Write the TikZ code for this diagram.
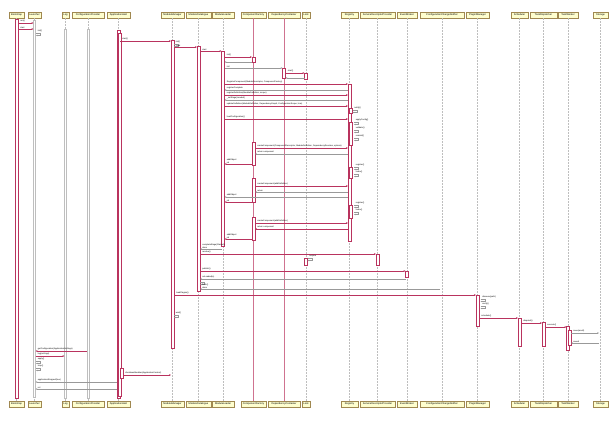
\documentclass[tikz,border=0pt]{standalone}
\usepackage{fontspec}
\setmainfont{Liberation Sans}
\usetikzlibrary{arrows.meta}
\definecolor{pu}{HTML}{A80036}
\definecolor{pfill}{HTML}{FEFECE}
\definecolor{pdraw}{HTML}{A08850}
\definecolor{lgray}{HTML}{BEBEBE}
\newcounter{lbn}
\tikzset{
  part/.style={draw=pdraw, fill=pfill, line width=0.45pt, minimum height=6pt, inner sep=0pt, font=\fontsize{2.5}{3}\selectfont},
  lifeln/.style={draw=lgray, line width=0.35pt, dash pattern=on 2pt off 1pt},
  pinkln/.style={draw=pu!55, line width=0.45pt},
  actbar/.style={draw=pu!80, fill=white, line width=0.35pt},
  grayact/.style={draw=lgray, fill=white, line width=0.35pt},
  msgline/.style={draw=pu!80, line width=0.4pt, -{Stealth[length=2pt,width=1.6pt]}},
  retline/.style={draw=gray!80, line width=0.3pt, -{Stealth[length=1.8pt,width=1.5pt]}},
  selfline/.style={draw=gray!80, line width=0.3pt, -{Stealth[length=1.6pt,width=1.3pt]}},
  lbl/.style={font=\fontsize{2.1}{2.5}\selectfont, inner sep=0.2pt, anchor=south west, align=left},
}
\newcommand\Lbl[3]{\stepcounter{lbn}\node[lbl] (lb\arabic{lbn}) at (#1,#2) {#3};}
\newcommand\Msg[4]{\draw[msgline] (#1,#3) -- (#2,#3);\Lbl{{min(#1,#2)+2}}{{#3-0.5}}{#4}}
\newcommand\Ret[4]{\draw[retline] (#1,#3) -- (#2,#3);\Lbl{{min(#1,#2)+2}}{{#3-0.5}}{#4}}
\newcommand\Self[3]{\draw[selfline] (#1+1.5,#2) -- (#1+6,#2) -- (#1+6,#2+2.5) -- (#1+1.5,#2+2.5);\Lbl{{#1+3}}{{#2-0.5}}{#3}}
\newcommand\Act[3]{\draw[actbar] (#1-1.5,#2) rectangle (#1+1.5,#3);}
\newcommand\GAct[3]{\draw[grayact] (#1-1,#2) rectangle (#1+1,#3);}
\begin{document}
\begin{tikzpicture}[x=1pt,y=-1pt]
\fill[white] (0,0) rectangle (615,421);
\useasboundingbox (0,0) rectangle (615,421);
% participants
\foreach \n/\cx/\w/\nm in {1/16.5/15/Bootstrap, 2/34.5/13/Launcher, 3/65.5/7/Log, 4/88/32/ConfigurationProvider, 5/118.5/23/ApplicationHost, 6/172.5/23/ModuleManager, 7/198.5/25/ModuleCatalogue, 8/223/22/ModuleLoader, 9/253.5/25/ComponentFactory, 10/284/32/DependencyContainer, 11/306/8/Lock, 12/349.5/17/Registry, 13/377.5/35/ServiceDescriptorProvider, 14/407/20/EventBroker, 15/442/44/ConfigurationChangeNotifier, 16/477.5/23/PluginManager, 17/519.5/17/Scheduler, 18/543.5/27/TaskDispatcher, 19/568/20/TaskWorker, 20/600.5/15/Storage}{
  \node[part, minimum width=\w pt] (h\n) at (\cx,15) {\nm};
  \node[part, minimum width=\w pt] (f\n) at (\cx,404) {\nm};
  \draw[lifeln] (h\n.south) -- (f\n.north);
}
\draw[pinkln] (h9.south) -- (f9.north);
\draw[pinkln] (h10.south) -- (f10.north);
% activations
\Act{16.5}{19}{398}
\GAct{34.5}{20}{397}
\GAct{65.5}{29}{398}
\GAct{88}{29}{398}
\Act{118.5}{30}{398}
\Act{120}{33}{396}
\Act{121.5}{368}{378}
\Act{172.5}{40}{348}
\Act{198.5}{46}{291}
\Act{223}{51}{246}
\Act{253.5}{57}{62}
\Act{253.5}{142}{165}
\Act{253.5}{178}{202}
\Act{253.5}{217}{240}
\Act{284}{68}{78}
\Act{306}{73}{79}
\Act{306}{258}{265}
\Act{349.5}{84}{241}
\Act{351}{108}{113}
\Act{351}{122}{145}
\Act{351}{167}{178}
\Act{351}{205}{218}
\Act{377.5}{254}{265}
\Act{407}{271}{277}
\Act{477.5}{295}{326}
\Act{519.5}{318}{346}
\Act{543.5}{322}{346}
\Act{568}{326}{350}
\Act{569.5}{330}{345}
% messages
\Msg{18}{33.5}{23}{run()}
\Msg{18}{33.5}{29}{start}
\Self{34.5}{33}{init()}
\Msg{120}{171}{41}{start()}
\Self{172.5}{44}{init()}
\Msg{174}{197}{47}{load}
\Msg{200}{221.5}{51}{start}
\Msg{224.5}{252}{57}{init()}
\Ret{252}{224.5}{62}{}
\Ret{224.5}{282.5}{68}{init}
\Msg{285.5}{304.5}{73}{start()}
\Ret{304.5}{285.5}{78}{}
\Msg{224.5}{348}{84}{RegisterComponent(ModuleDescriptor, ComponentFactory)}
\Ret{348}{224.5}{90}{registerComplete}
\Msg{224.5}{348}{95}{registerDefinition(ModuleDefinition, scope)}
\Ret{348}{224.5}{100}{\_setStage(Loaded)}
\Msg{224.5}{348}{106}{updateDefinition(ModuleDefinition, DependencyGraph, ConfigurationScope, true)}
\Self{351}{110}{notify()}
\Msg{224.5}{348}{119}{loadConfiguration()}
\Self{352.5}{122}{applyConfig()}
\Self{352.5}{130}{validate()}
\Self{352.5}{138}{commit()}
\Msg{255}{348}{148}{createComponent(ComponentDescriptor, ModuleDefinition, DependencyResolver, options)}
\Ret{348}{255}{154}{return component}
\Msg{252}{224.5}{164}{addObject\\ok}
\Self{352.5}{167}{register()}
\Self{352.5}{174}{index()}
\Msg{255}{348}{186}{createComponent(addDefinition)}
\Ret{348}{255}{192}{return}
\Ret{348}{224.5}{197}{addObject}
\Msg{252}{224.5}{202}{ok}
\Self{352.5}{205}{register()}
\Self{352.5}{212}{index()}
\Msg{255}{348}{223}{createComponent(addDefinition)}
\Msg{348}{255}{229}{return component}
\Msg{252}{224.5}{239}{addObject\\ok}
\Ret{221.5}{200}{249}{completeStage(Started)\\done}
\Msg{200}{376}{254}{resolve()}
\Self{306}{258}{acquire}
\Msg{200}{405.5}{271}{publish()}
\Ret{405.5}{200}{279}{onLoaded(e)}
\Self{198.5}{282}{}
\Ret{440}{200}{289}{flush()\\done}
\Msg{174}{476}{295}{loadPlugins()}
\Self{172.5}{315}{wait()}
\Self{479}{299}{discover(path)}
\Self{479}{306}{verify()}
\Msg{479}{518}{318}{schedule()}
\Msg{521}{542}{323}{dispatch()}
\Msg{545}{566.5}{327}{execute()}
\Ret{571}{599}{333}{save(result)}
\Ret{599}{571}{343}{saved}
\Msg{86.5}{35.5}{351}{getConfiguration(ApplicationSettings)}
\Msg{35.5}{64.5}{356}{log(settings)}
\Self{34.5}{361}{apply()}
\Self{34.5}{368}{stop()}
\Msg{123}{171}{375}{shutdownModules(ApplicationContext)}
\Ret{117}{35.5}{382}{applicationStopped(true)}
\Ret{117}{35.5}{389}{ret}
\end{tikzpicture}
\end{document}
